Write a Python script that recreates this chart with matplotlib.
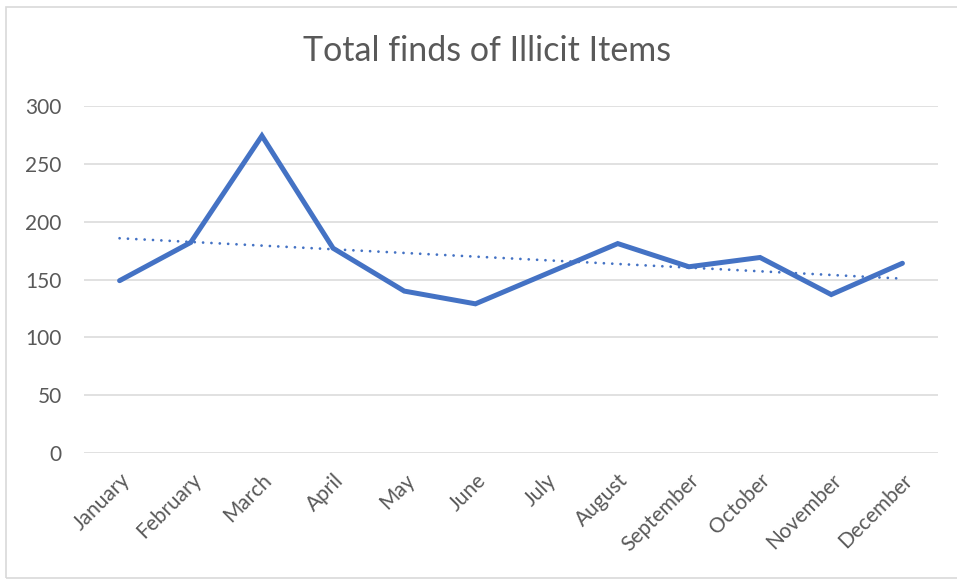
import numpy as np
import matplotlib
matplotlib.use("Agg")
import matplotlib.pyplot as plt
from matplotlib.patches import Rectangle

months = ["January", "February", "March", "April", "May", "June",
          "July", "August", "September", "October", "November", "December"]
finds = [149, 182, 274, 177, 140, 129, 155, 181, 161, 169, 137, 164]
y_ticks = [0, 50, 100, 150, 200, 250, 300]

blue = "#4472C4"
grey_text = "#595959"
grid_col = "#D9D9D9"

plt.rcParams["font.family"] = ["Lato", "DejaVu Sans"]

fig = plt.figure(figsize=(9.57, 5.81), dpi=100)
ax = fig.add_axes([84 / 957, 127.7 / 581, 854 / 957, 347.6 / 581])

x = np.arange(len(months))
ax.plot(x, finds, color=blue, lw=3.6, solid_joinstyle="miter", solid_capstyle="round", zorder=3)

# linear trendline
slope, icpt = np.polyfit(x, finds, 1)
ax.plot(x, slope * x + icpt, color=blue, lw=2.0, linestyle=(0, (0.01, 3.0)),
        dash_capstyle="round", zorder=2)

ax.set_xlim(-0.5, len(months) - 0.5)
ax.set_ylim(0, 300)
ax.set_yticks(y_ticks)
ax.set_yticklabels([str(v) for v in y_ticks])
ax.set_xticks(x)
ax.set_xticklabels(months, rotation=45, ha="right", rotation_mode="anchor")

ax.grid(axis="y", color=grid_col, lw=1.1)
ax.set_axisbelow(True)
for s in ax.spines.values():
    s.set_visible(False)
ax.tick_params(axis="both", length=0, colors=grey_text, labelsize=15)
ax.tick_params(axis="y", pad=16)
ax.tick_params(axis="x", pad=12)

fig.text(487 / 957, 1 - 51 / 581, "Total finds of Illicit Items", ha="center", va="center",
         fontsize=24.5, color=grey_text)

# chart border
fig.patches.append(Rectangle((6 / 957, 3 / 581), 1.0, 1 - 10 / 581, transform=fig.transFigure,
                             fill=False, edgecolor="#D9D9D9", lw=1.2))

fig.savefig("out.png", dpi=100, facecolor="white")
